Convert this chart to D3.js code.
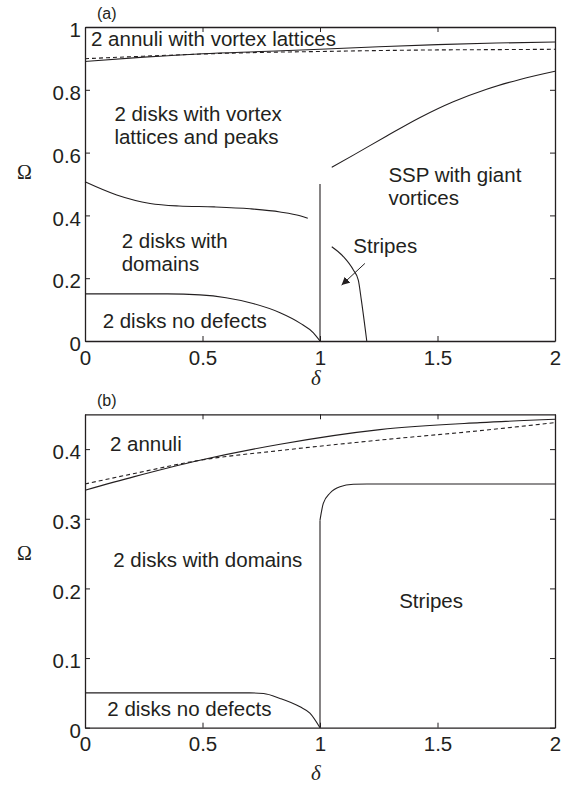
<!DOCTYPE html>
<html>
<head>
<meta charset="utf-8">
<script src="https://cdn.jsdelivr.net/npm/d3@7"></script>
<style>
  html, body { margin: 0; padding: 0; background: #fff; }
  svg { display: block; }
  text { font-family: "Liberation Sans", Arial, Helvetica, sans-serif; fill: #231f20; }
</style>
</head>
<body>
<svg id="chart" width="575" height="785"></svg>
<script>
// ---- tick values and labels ----
const deltaTicks = [0, 0.5, 1, 1.5, 2];
const deltaTickLabels = ["0", "0.5", "1", "1.5", "2"];
const omegaTicksA = [0, 0.2, 0.4, 0.6, 0.8, 1];
const omegaTickLabelsA = ["0", "0.2", "0.4", "0.6", "0.8", "1"];
const omegaTicksB = [0, 0.1, 0.2, 0.3, 0.4];
const omegaTickLabelsB = ["0", "0.1", "0.2", "0.3", "0.4"];

// ---- panel (a): phase boundaries [delta, Omega] ----
const annuliSolidA = [[0,0.890],[0.25,0.904],[0.5,0.915],[0.75,0.922],[1,0.929],[1.25,0.937],[1.5,0.944],[1.75,0.949],[2,0.952]];
const annuliDashedA = [[0,0.899],[0.25,0.907],[0.5,0.914],[0.75,0.919],[1,0.922],[1.25,0.925],[1.5,0.927],[1.75,0.928],[2,0.929]];
const domainsUpperA = [[0,0.507],[0.135,0.465],[0.277,0.438],[0.4,0.430],[0.55,0.427],[0.702,0.421],[0.83,0.411],[0.915,0.399],[0.948,0.391]];
const noDefectsA = [[0,0.150],[0.35,0.150],[0.489,0.147],[0.6,0.138],[0.702,0.122],[0.83,0.090],[0.915,0.057],[0.972,0.026],[1,0]];
const verticalA = [[1,0],[1,0.5]];
const ssptopA = [[1.05,0.553],[1.142,0.592],[1.284,0.653],[1.426,0.712],[1.567,0.762],[1.709,0.802],[1.851,0.833],[2,0.859]];
const stripesA = [[1.05,0.300],[1.099,0.269],[1.142,0.226],[1.163,0.194],[1.176,0.13],[1.199,0]];
const stripesArrowA = [[1.191,0.247],[1.092,0.178]];

// ---- panel (b): phase boundaries [delta, Omega] ----
const annuliSolidB = [[0,0.341],[0.21,0.3605],[0.489,0.384],[0.83,0.407],[1.255,0.428],[1.681,0.438],[2,0.443]];
const annuliDashedB = [[0,0.350],[0.21,0.365],[0.489,0.384],[0.83,0.398],[1.255,0.413],[1.681,0.4265],[2,0.438]];
const noDefectsB = [[0,0.05],[0.7,0.05],[0.76,0.049],[0.83,0.042],[0.915,0.030],[0.957,0.021],[1,0]];
const verticalB = [[1,0],[1,0.298]];
const stripesB = [[1,0.298],[1.014,0.322],[1.043,0.337],[1.085,0.346],[1.142,0.3495],[1.2,0.35],[2,0.35]];

// ---- region labels: [text, delta, Omega] (text baseline anchor) ----
const labelsA = [
  ["2 annuli with vortex lattices", 0.0255, 0.941],
  ["2 disks with vortex", 0.125, 0.701],
  ["lattices and peaks", 0.125, 0.626],
  ["SSP with giant", 1.291, 0.507],
  ["vortices", 1.291, 0.433],
  ["Stripes", 1.142, 0.281],
  ["2 disks with", 0.156, 0.297],
  ["domains", 0.156, 0.224],
  ["2 disks no defects", 0.075, 0.040]
];
const labelsB = [
  ["2 annuli", 0.106, 0.397],
  ["2 disks with domains", 0.120, 0.231],
  ["Stripes", 1.337, 0.1715],
  ["2 disks no defects", 0.095, 0.0172]
];

// ---- layout ----
const svg = d3.select("#chart");
const ink = "#231f20";
const fontSize = 20.5;

svg.append("defs").append("marker")
  .attr("id", "arrowhead")
  .attr("viewBox", "0 0 10 10")
  .attr("refX", 10).attr("refY", 5)
  .attr("markerWidth", 8).attr("markerHeight", 8)
  .attr("markerUnits", "userSpaceOnUse")
  .attr("orient", "auto")
  .append("path")
  .attr("d", "M0,0 L10,5 L0,10 Z")
  .attr("fill", ink);

function drawPanel(cfg) {
  const x = d3.scaleLinear().domain([0, 2]).range([cfg.left, cfg.right]);
  const y = d3.scaleLinear().domain(cfg.yDomain).range([cfg.bottom, cfg.top]);
  const g = svg.append("g");

  const line = d3.line().x(d => x(d[0])).y(d => y(d[1])).curve(d3.curveMonotoneX);
  const straight = d3.line().x(d => x(d[0])).y(d => y(d[1]));

  // boundary curves
  cfg.solid.forEach(pts => {
    g.append("path").attr("d", line(pts))
      .attr("fill", "none").attr("stroke", ink).attr("stroke-width", 1.1);
  });
  cfg.dashed.forEach(pts => {
    g.append("path").attr("d", line(pts))
      .attr("fill", "none").attr("stroke", ink).attr("stroke-width", 1.1)
      .attr("stroke-dasharray", "4,3");
  });
  cfg.straight.forEach(pts => {
    g.append("path").attr("d", straight(pts))
      .attr("fill", "none").attr("stroke", ink).attr("stroke-width", 1.1);
  });
  if (cfg.arrow) {
    g.append("path").attr("d", straight(cfg.arrow))
      .attr("fill", "none").attr("stroke", ink).attr("stroke-width", 1)
      .attr("marker-end", "url(#arrowhead)");
  }

  // axes with inward ticks on all four sides
  const bottomAxis = d3.axisBottom(x).tickValues(deltaTicks)
    .tickFormat((d, i) => deltaTickLabels[i])
    .tickSizeInner(-5).tickSizeOuter(0).tickPadding(9);
  const topAxis = d3.axisTop(x).tickValues(deltaTicks).tickFormat("")
    .tickSizeInner(-5).tickSizeOuter(0);
  const leftAxis = d3.axisLeft(y).tickValues(cfg.yTicks)
    .tickFormat((d, i) => cfg.yTickLabels[i])
    .tickSizeInner(-5).tickSizeOuter(0).tickPadding(4);
  const rightAxis = d3.axisRight(y).tickValues(cfg.yTicks).tickFormat("")
    .tickSizeInner(-5).tickSizeOuter(0);

  const axes = [
    g.append("g").attr("transform", `translate(0,${cfg.bottom})`).call(bottomAxis),
    g.append("g").attr("transform", `translate(0,${cfg.top})`).call(topAxis),
    g.append("g").attr("transform", `translate(${cfg.left},0)`).call(leftAxis),
    g.append("g").attr("transform", `translate(${cfg.right},0)`).call(rightAxis)
  ];
  axes.forEach(a => {
    a.select(".domain").attr("stroke", ink).attr("stroke-width", 1.3);
    a.selectAll(".tick line").attr("stroke", ink).attr("stroke-width", 1);
    a.selectAll(".tick text")
      .style("font-family", '"Liberation Sans", Arial, sans-serif')
      .style("font-size", fontSize + "px").attr("fill", ink);
  });
  axes[2].selectAll(".tick text").attr("dy", "0.47em");

  // region labels
  cfg.labels.forEach(([t, dx, oy]) => {
    g.append("text").attr("x", x(dx)).attr("y", y(oy))
      .style("font-size", fontSize + "px").text(t);
  });

  // axis titles
  g.append("text").attr("x", 24.5).attr("y", cfg.omegaBaseline)
    .attr("text-anchor", "middle")
    .style("font-family", '"Liberation Serif", "Times New Roman", serif')
    .style("font-size", "20px").text("Ω");
  g.append("text").attr("x", 316).attr("y", cfg.deltaBaseline)
    .attr("text-anchor", "middle")
    .style("font-family", '"Liberation Serif", "Times New Roman", serif')
    .style("font-style", "italic")
    .style("font-size", "21px").text("δ");

  // panel tag
  g.append("text").attr("x", 97).attr("y", cfg.tagBaseline)
    .style("font-size", "16px").text(cfg.tag);
}

drawPanel({
  left: 85, right: 555, top: 27, bottom: 341,
  yDomain: [0, 1], yTicks: omegaTicksA, yTickLabels: omegaTickLabelsA,
  solid: [annuliSolidA, domainsUpperA, noDefectsA, ssptopA, stripesA],
  dashed: [annuliDashedA],
  straight: [verticalA],
  arrow: stripesArrowA,
  labels: labelsA,
  omegaBaseline: 179, deltaBaseline: 385, tagBaseline: 18.5, tag: "(a)"
});

drawPanel({
  left: 85, right: 555, top: 414.3, bottom: 727.7,
  yDomain: [0, 0.45], yTicks: omegaTicksB, yTickLabels: omegaTickLabelsB,
  solid: [annuliSolidB, noDefectsB, stripesB],
  dashed: [annuliDashedB],
  straight: [verticalB],
  arrow: null,
  labels: labelsB,
  omegaBaseline: 560, deltaBaseline: 780, tagBaseline: 406, tag: "(b)"
});
</script>
</body>
</html>
